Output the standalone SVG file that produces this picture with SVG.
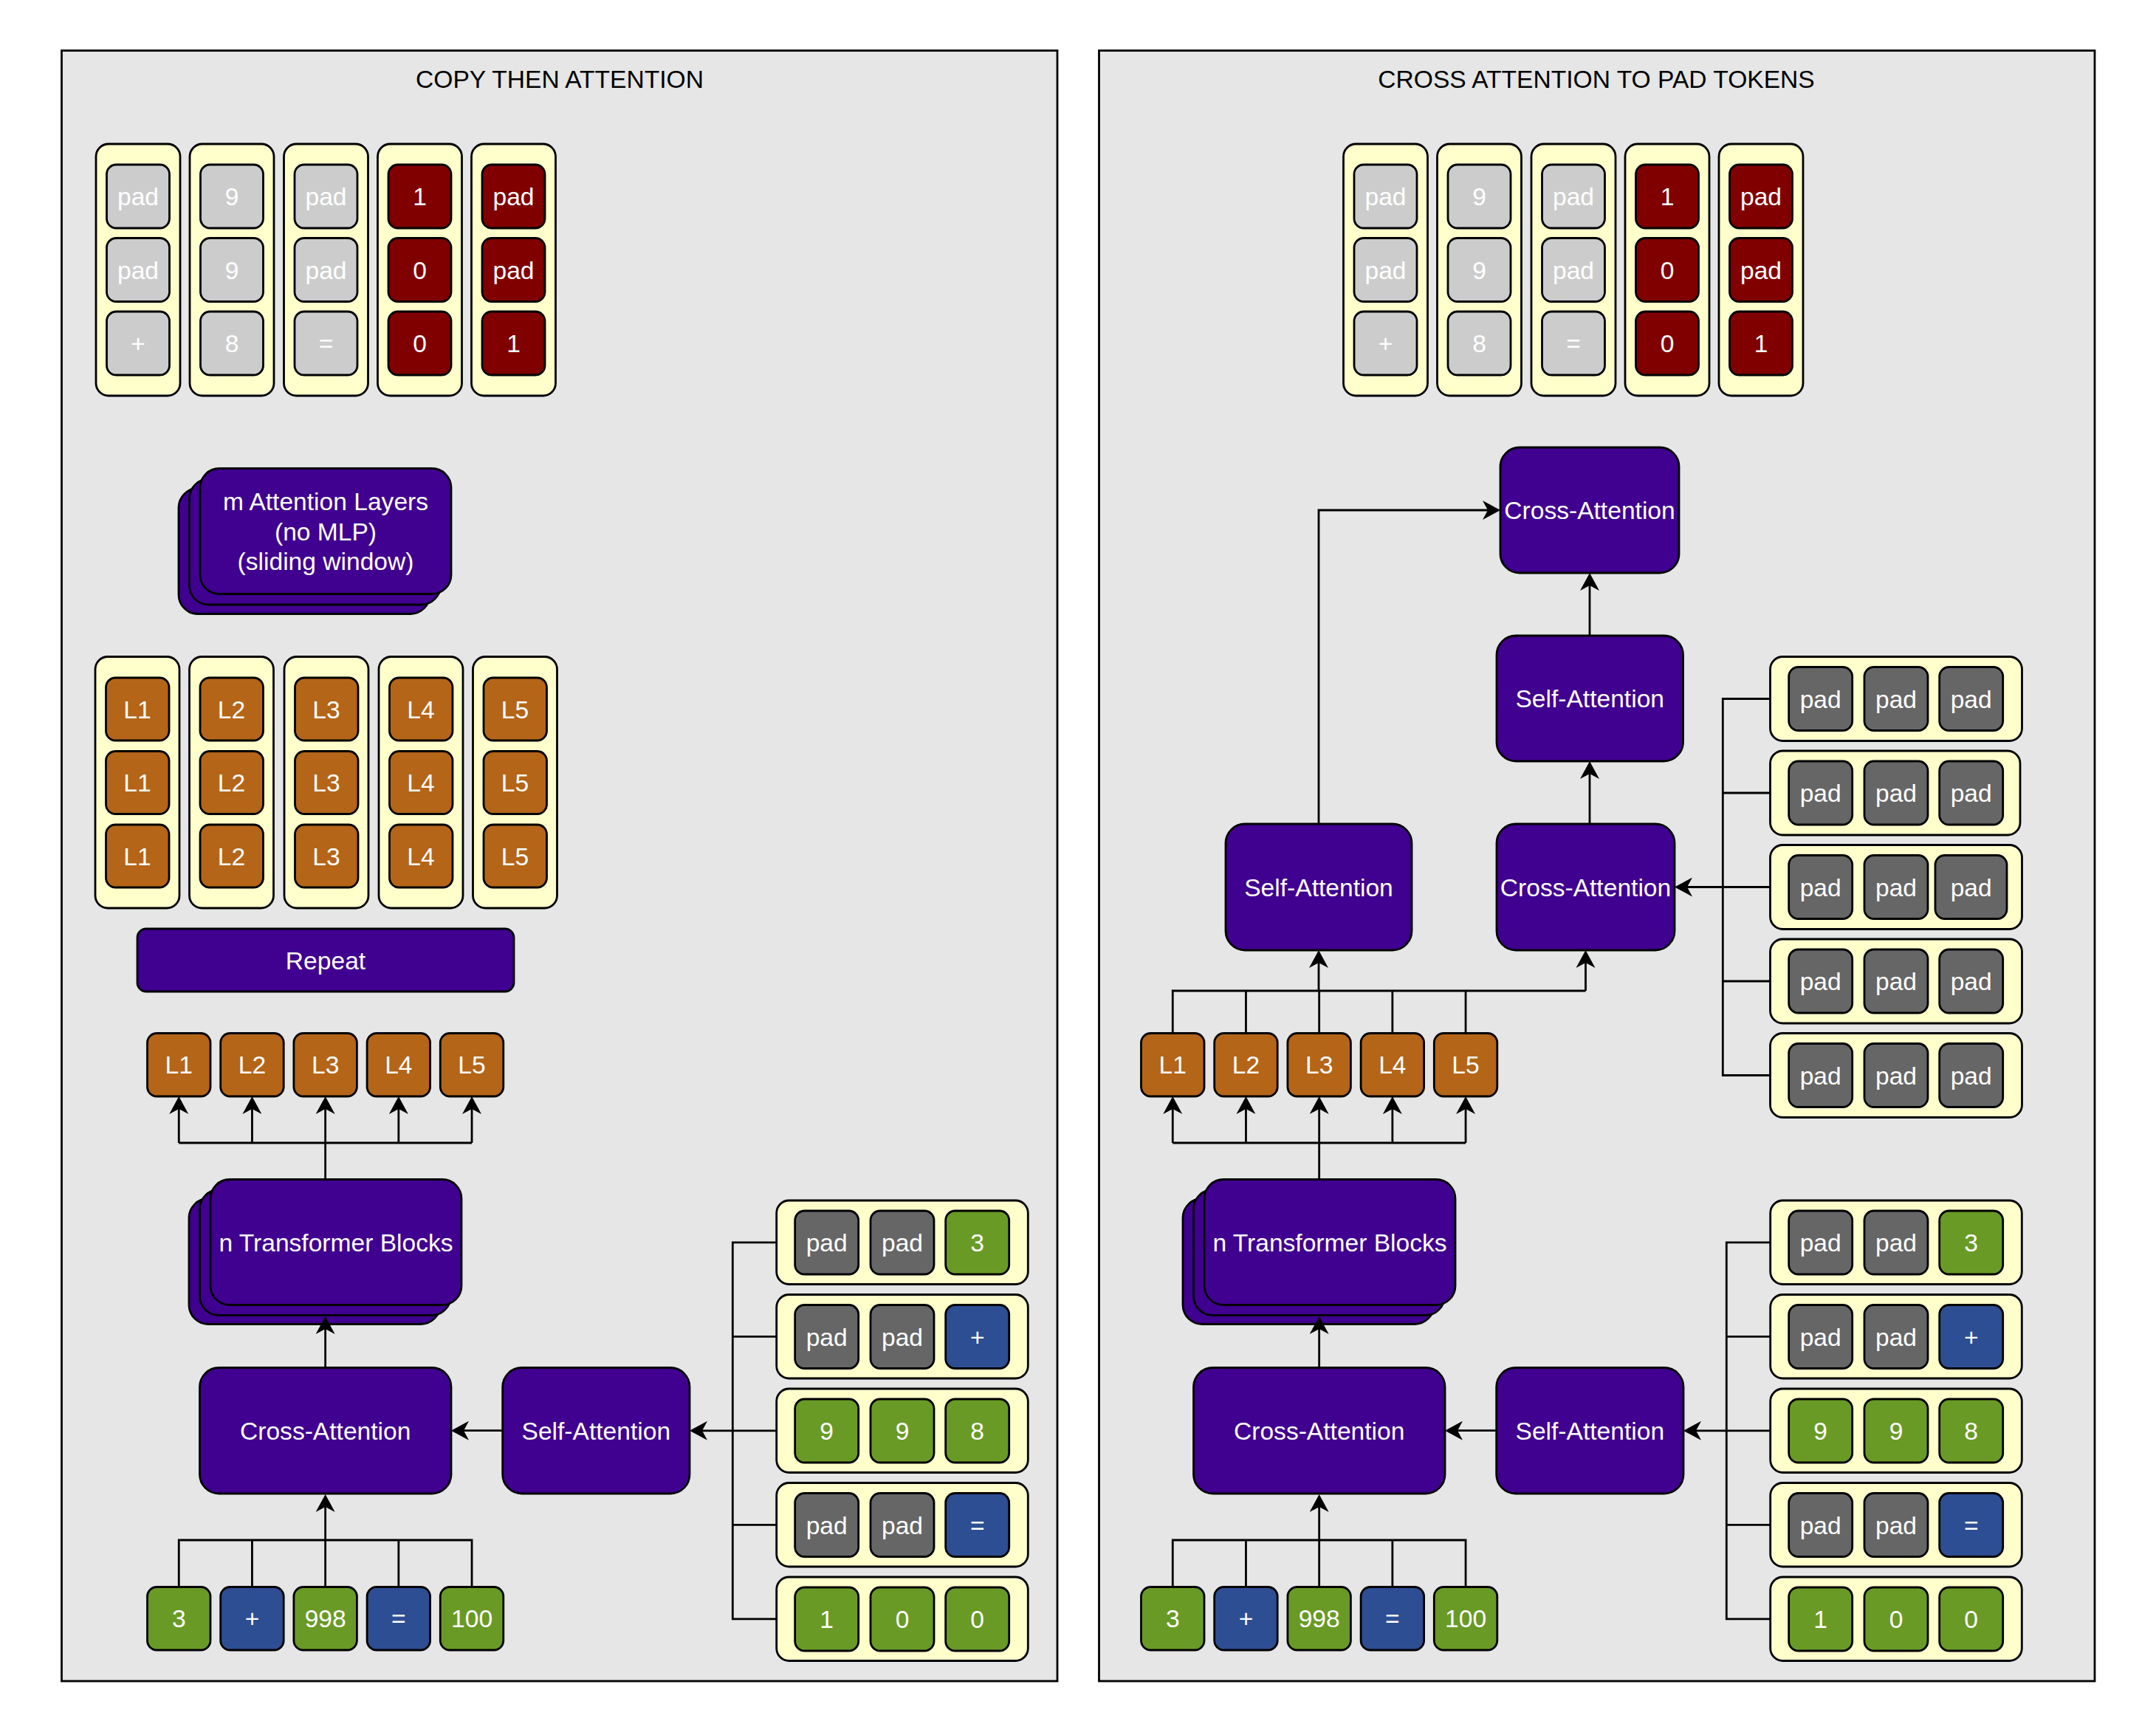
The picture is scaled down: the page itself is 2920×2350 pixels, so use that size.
<svg xmlns="http://www.w3.org/2000/svg" width="2920" height="2350" viewBox="0 0 2920 2350">
<defs>
<style>
.panel{fill:#e6e6e6;stroke:#000;stroke-width:2.8}
.col{fill:#ffffcc;stroke:#000;stroke-width:2.8}
.tk{stroke:#000;stroke-width:2.8}
.lg{fill:#cccccc}.dr{fill:#800000}.or{fill:#b46518}.gr{fill:#6a9a26}.bl{fill:#2d4e93}.dg{fill:#666666}
.pu{fill:#400090;stroke:#000;stroke-width:2.8}
text{font-family:"Liberation Sans",Arial,Helvetica,sans-serif;font-size:33.6px;fill:#fff;text-anchor:middle}
text.title{fill:#000}
.e{fill:none;stroke:#000;stroke-width:2.8}
.a{fill:none;stroke:#000;stroke-width:2.8;marker-end:url(#arr)}
</style>
<marker id="arr" markerUnits="userSpaceOnUse" markerWidth="26" markerHeight="26" viewBox="0 0 24 26" refX="21" refY="13" orient="auto"><path d="M0,0 L24,13 L0,26 L7,13 Z" fill="#000"/></marker>
</defs>
<rect width="2920" height="2350" fill="#fff"/>

<!-- LEFT PANEL -->
<g id="panel-left"><rect class="panel" x="83.5" y="68.5" width="1348.5" height="2208.5"/><text class="title" x="758" y="119">COPY THEN ATTENTION</text></g>

<g id="left-out-col1"><rect class="col" x="130" y="195" width="114" height="341" rx="17"/>
<rect class="tk lg" x="144.5" y="223" width="85" height="86" rx="13"/><text x="187" y="278">pad</text>
<rect class="tk lg" x="144.5" y="322.5" width="85" height="86" rx="13"/><text x="187" y="377.5">pad</text>
<rect class="tk lg" x="144.5" y="422" width="85" height="86" rx="13"/><text x="187" y="477">+</text></g>
<g id="left-out-col2"><rect class="col" x="257" y="195" width="114" height="341" rx="17"/>
<rect class="tk lg" x="271.5" y="223" width="85" height="86" rx="13"/><text x="314" y="278">9</text>
<rect class="tk lg" x="271.5" y="322.5" width="85" height="86" rx="13"/><text x="314" y="377.5">9</text>
<rect class="tk lg" x="271.5" y="422" width="85" height="86" rx="13"/><text x="314" y="477">8</text></g>
<g id="left-out-col3"><rect class="col" x="384.5" y="195" width="114" height="341" rx="17"/>
<rect class="tk lg" x="399" y="223" width="85" height="86" rx="13"/><text x="441.5" y="278">pad</text>
<rect class="tk lg" x="399" y="322.5" width="85" height="86" rx="13"/><text x="441.5" y="377.5">pad</text>
<rect class="tk lg" x="399" y="422" width="85" height="86" rx="13"/><text x="441.5" y="477">=</text></g>
<g id="left-out-col4"><rect class="col" x="511.5" y="195" width="114" height="341" rx="17"/>
<rect class="tk dr" x="526" y="223" width="85" height="86" rx="13"/><text x="568.5" y="278">1</text>
<rect class="tk dr" x="526" y="322.5" width="85" height="86" rx="13"/><text x="568.5" y="377.5">0</text>
<rect class="tk dr" x="526" y="422" width="85" height="86" rx="13"/><text x="568.5" y="477">0</text></g>
<g id="left-out-col5"><rect class="col" x="638.5" y="195" width="114" height="341" rx="17"/>
<rect class="tk dr" x="653" y="223" width="85" height="86" rx="13"/><text x="695.5" y="278">pad</text>
<rect class="tk dr" x="653" y="322.5" width="85" height="86" rx="13"/><text x="695.5" y="377.5">pad</text>
<rect class="tk dr" x="653" y="422" width="85" height="86" rx="13"/><text x="695.5" y="477">1</text></g>

<g id="left-m-attention">
<rect class="pu" x="242" y="661.5" width="340" height="170" rx="26"/>
<rect class="pu" x="256.5" y="649" width="340" height="170" rx="26"/>
<rect class="pu" x="271" y="634.5" width="340" height="170" rx="26"/>
<text x="441" y="691">m Attention Layers</text><text x="441" y="731.5">(no MLP)</text><text x="441" y="772">(sliding window)</text></g>

<g id="left-l-col1"><rect class="col" x="129" y="889.5" width="114" height="340.5" rx="17"/>
<rect class="tk or" x="143.5" y="918" width="85.5" height="85" rx="13"/><text x="186" y="972.5">L1</text>
<rect class="tk or" x="143.5" y="1017.5" width="85.5" height="85" rx="13"/><text x="186" y="1072">L1</text>
<rect class="tk or" x="143.5" y="1117" width="85.5" height="85" rx="13"/><text x="186" y="1171.5">L1</text></g>
<g id="left-l-col2"><rect class="col" x="256.5" y="889.5" width="114" height="340.5" rx="17"/>
<rect class="tk or" x="271" y="918" width="85.5" height="85" rx="13"/><text x="313.5" y="972.5">L2</text>
<rect class="tk or" x="271" y="1017.5" width="85.5" height="85" rx="13"/><text x="313.5" y="1072">L2</text>
<rect class="tk or" x="271" y="1117" width="85.5" height="85" rx="13"/><text x="313.5" y="1171.5">L2</text></g>
<g id="left-l-col3"><rect class="col" x="385" y="889.5" width="114" height="340.5" rx="17"/>
<rect class="tk or" x="399.5" y="918" width="85.5" height="85" rx="13"/><text x="442" y="972.5">L3</text>
<rect class="tk or" x="399.5" y="1017.5" width="85.5" height="85" rx="13"/><text x="442" y="1072">L3</text>
<rect class="tk or" x="399.5" y="1117" width="85.5" height="85" rx="13"/><text x="442" y="1171.5">L3</text></g>
<g id="left-l-col4"><rect class="col" x="513" y="889.5" width="114" height="340.5" rx="17"/>
<rect class="tk or" x="527.5" y="918" width="85.5" height="85" rx="13"/><text x="570" y="972.5">L4</text>
<rect class="tk or" x="527.5" y="1017.5" width="85.5" height="85" rx="13"/><text x="570" y="1072">L4</text>
<rect class="tk or" x="527.5" y="1117" width="85.5" height="85" rx="13"/><text x="570" y="1171.5">L4</text></g>
<g id="left-l-col5"><rect class="col" x="640.5" y="889.5" width="114" height="340.5" rx="17"/>
<rect class="tk or" x="655" y="918" width="85.5" height="85" rx="13"/><text x="697.5" y="972.5">L5</text>
<rect class="tk or" x="655" y="1017.5" width="85.5" height="85" rx="13"/><text x="697.5" y="1072">L5</text>
<rect class="tk or" x="655" y="1117" width="85.5" height="85" rx="13"/><text x="697.5" y="1171.5">L5</text></g>

<g id="left-repeat"><rect class="pu" x="186" y="1258" width="510" height="85" rx="12"/><text x="441" y="1312.5">Repeat</text></g>

<g id="left-L-row">
<rect class="tk or" x="199.5" y="1399.5" width="85.5" height="85.5" rx="13"/><text x="242.25" y="1454">L1</text>
<rect class="tk or" x="298.7" y="1399.5" width="85.5" height="85.5" rx="13"/><text x="341.45" y="1454">L2</text>
<rect class="tk or" x="397.9" y="1399.5" width="85.5" height="85.5" rx="13"/><text x="440.65" y="1454">L3</text>
<rect class="tk or" x="497.1" y="1399.5" width="85.5" height="85.5" rx="13"/><text x="539.85" y="1454">L4</text>
<rect class="tk or" x="596.3" y="1399.5" width="85.5" height="85.5" rx="13"/><text x="639.05" y="1454">L5</text></g>

<g id="left-transformer">
<rect class="pu" x="256" y="1623.5" width="340" height="170" rx="26"/>
<rect class="pu" x="270.5" y="1611.5" width="340" height="170" rx="26"/>
<rect class="pu" x="285" y="1597.5" width="340" height="170" rx="26"/>
<text x="455" y="1694.5">n Transformer Blocks</text></g>

<g id="left-cross"><rect class="pu" x="270.5" y="1852.5" width="340.5" height="170.5" rx="26"/><text x="440.7" y="1949.7">Cross-Attention</text></g>
<g id="left-self"><rect class="pu" x="680.7" y="1852.5" width="253.3" height="170.5" rx="26"/><text x="807.3" y="1949.7">Self-Attention</text></g>

<g id="left-in-row">
<rect class="tk gr" x="199.5" y="2149.5" width="85.5" height="85.5" rx="13"/><text x="242.25" y="2204">3</text>
<rect class="tk bl" x="298.7" y="2149.5" width="85.5" height="85.5" rx="13"/><text x="341.45" y="2204">+</text>
<rect class="tk gr" x="397.9" y="2149.5" width="85.5" height="85.5" rx="13"/><text x="440.65" y="2204">998</text>
<rect class="tk bl" x="497.1" y="2149.5" width="85.5" height="85.5" rx="13"/><text x="539.85" y="2204">=</text>
<rect class="tk gr" x="596.3" y="2149.5" width="85.5" height="85.5" rx="13"/><text x="639.05" y="2204">100</text></g>

<g id="left-pad-row1"><rect class="col" x="1051.7" y="1626" width="340.6" height="113.5" rx="17"/>
<rect class="tk dg" x="1076.7" y="1640" width="86" height="86" rx="13"/><text x="1119.7" y="1695">pad</text>
<rect class="tk dg" x="1179" y="1640" width="86" height="86" rx="13"/><text x="1222" y="1695">pad</text>
<rect class="tk gr" x="1280.7" y="1640" width="86" height="86" rx="13"/><text x="1323.7" y="1695">3</text></g>
<g id="left-pad-row2"><rect class="col" x="1051.7" y="1753.5" width="340.6" height="113.5" rx="17"/>
<rect class="tk dg" x="1076.7" y="1767.5" width="86" height="86" rx="13"/><text x="1119.7" y="1822.5">pad</text>
<rect class="tk dg" x="1179" y="1767.5" width="86" height="86" rx="13"/><text x="1222" y="1822.5">pad</text>
<rect class="tk bl" x="1280.7" y="1767.5" width="86" height="86" rx="13"/><text x="1323.7" y="1822.5">+</text></g>
<g id="left-pad-row3"><rect class="col" x="1051.7" y="1881" width="340.6" height="113.5" rx="17"/>
<rect class="tk gr" x="1076.7" y="1895" width="86" height="86" rx="13"/><text x="1119.7" y="1950">9</text>
<rect class="tk gr" x="1179" y="1895" width="86" height="86" rx="13"/><text x="1222" y="1950">9</text>
<rect class="tk gr" x="1280.7" y="1895" width="86" height="86" rx="13"/><text x="1323.7" y="1950">8</text></g>
<g id="left-pad-row4"><rect class="col" x="1051.7" y="2008.5" width="340.6" height="113.5" rx="17"/>
<rect class="tk dg" x="1076.7" y="2022.5" width="86" height="86" rx="13"/><text x="1119.7" y="2077.5">pad</text>
<rect class="tk dg" x="1179" y="2022.5" width="86" height="86" rx="13"/><text x="1222" y="2077.5">pad</text>
<rect class="tk bl" x="1280.7" y="2022.5" width="86" height="86" rx="13"/><text x="1323.7" y="2077.5">=</text></g>
<g id="left-pad-row5"><rect class="col" x="1051.7" y="2136" width="340.6" height="113.5" rx="17"/>
<rect class="tk gr" x="1076.7" y="2150" width="86" height="86" rx="13"/><text x="1119.7" y="2205">1</text>
<rect class="tk gr" x="1179" y="2150" width="86" height="86" rx="13"/><text x="1222" y="2205">0</text>
<rect class="tk gr" x="1280.7" y="2150" width="86" height="86" rx="13"/><text x="1323.7" y="2205">0</text></g>

<!-- RIGHT PANEL -->
<g id="panel-right"><rect class="panel" x="1488.5" y="68.5" width="1348.5" height="2208.5"/><text class="title" x="2162" y="119">CROSS ATTENTION TO PAD TOKENS</text></g>

<g id="right-out-col1"><rect class="col" x="1819.5" y="195" width="114" height="341" rx="17"/>
<rect class="tk lg" x="1834" y="223" width="85" height="86" rx="13"/><text x="1876.5" y="278">pad</text>
<rect class="tk lg" x="1834" y="322.5" width="85" height="86" rx="13"/><text x="1876.5" y="377.5">pad</text>
<rect class="tk lg" x="1834" y="422" width="85" height="86" rx="13"/><text x="1876.5" y="477">+</text></g>
<g id="right-out-col2"><rect class="col" x="1946.5" y="195" width="114" height="341" rx="17"/>
<rect class="tk lg" x="1961" y="223" width="85" height="86" rx="13"/><text x="2003.5" y="278">9</text>
<rect class="tk lg" x="1961" y="322.5" width="85" height="86" rx="13"/><text x="2003.5" y="377.5">9</text>
<rect class="tk lg" x="1961" y="422" width="85" height="86" rx="13"/><text x="2003.5" y="477">8</text></g>
<g id="right-out-col3"><rect class="col" x="2074" y="195" width="114" height="341" rx="17"/>
<rect class="tk lg" x="2088.5" y="223" width="85" height="86" rx="13"/><text x="2131" y="278">pad</text>
<rect class="tk lg" x="2088.5" y="322.5" width="85" height="86" rx="13"/><text x="2131" y="377.5">pad</text>
<rect class="tk lg" x="2088.5" y="422" width="85" height="86" rx="13"/><text x="2131" y="477">=</text></g>
<g id="right-out-col4"><rect class="col" x="2201" y="195" width="114" height="341" rx="17"/>
<rect class="tk dr" x="2215.5" y="223" width="85" height="86" rx="13"/><text x="2258" y="278">1</text>
<rect class="tk dr" x="2215.5" y="322.5" width="85" height="86" rx="13"/><text x="2258" y="377.5">0</text>
<rect class="tk dr" x="2215.5" y="422" width="85" height="86" rx="13"/><text x="2258" y="477">0</text></g>
<g id="right-out-col5"><rect class="col" x="2328" y="195" width="114" height="341" rx="17"/>
<rect class="tk dr" x="2342.5" y="223" width="85" height="86" rx="13"/><text x="2385" y="278">pad</text>
<rect class="tk dr" x="2342.5" y="322.5" width="85" height="86" rx="13"/><text x="2385" y="377.5">pad</text>
<rect class="tk dr" x="2342.5" y="422" width="85" height="86" rx="13"/><text x="2385" y="477">1</text></g>

<g id="right-cross-top"><rect class="pu" x="2032" y="606" width="242" height="170" rx="26"/><text x="2153" y="703">Cross-Attention</text></g>
<g id="right-self-top"><rect class="pu" x="2027" y="861" width="252.5" height="170" rx="26"/><text x="2153.2" y="958">Self-Attention</text></g>
<g id="right-cross-mid"><rect class="pu" x="2027" y="1116" width="241" height="171" rx="26"/><text x="2147.5" y="1213.5">Cross-Attention</text></g>
<g id="right-self-left"><rect class="pu" x="1660" y="1116" width="252" height="171" rx="26"/><text x="1786" y="1213.5">Self-Attention</text></g>

<g id="right-padonly-row1"><rect class="col" x="2397.5" y="889.5" width="341" height="114" rx="17"/>
<rect class="tk dg" x="2422.7" y="903.5" width="86" height="86" rx="13"/><text x="2465.7" y="958.5">pad</text>
<rect class="tk dg" x="2525" y="903.5" width="86" height="86" rx="13"/><text x="2568" y="958.5">pad</text>
<rect class="tk dg" x="2626.7" y="903.5" width="86" height="86" rx="13"/><text x="2669.7" y="958.5">pad</text></g>
<g id="right-padonly-row2"><rect class="col" x="2397.5" y="1017" width="338.5" height="114" rx="17"/>
<rect class="tk dg" x="2422.7" y="1031" width="86" height="86" rx="13"/><text x="2465.7" y="1086">pad</text>
<rect class="tk dg" x="2525" y="1031" width="86" height="86" rx="13"/><text x="2568" y="1086">pad</text>
<rect class="tk dg" x="2626.7" y="1031" width="86" height="86" rx="13"/><text x="2669.7" y="1086">pad</text></g>
<g id="right-padonly-row3"><rect class="col" x="2397.5" y="1144.5" width="341" height="114" rx="17"/>
<rect class="tk dg" x="2422.7" y="1158.5" width="86" height="86" rx="13"/><text x="2465.7" y="1213.5">pad</text>
<rect class="tk dg" x="2525" y="1158.5" width="86" height="86" rx="13"/><text x="2568" y="1213.5">pad</text>
<rect class="tk dg" x="2621" y="1158.5" width="97" height="86" rx="13"/><text x="2669.7" y="1213.5">pad</text></g>
<g id="right-padonly-row4"><rect class="col" x="2397.5" y="1272" width="341" height="114" rx="17"/>
<rect class="tk dg" x="2422.7" y="1286" width="86" height="86" rx="13"/><text x="2465.7" y="1341">pad</text>
<rect class="tk dg" x="2525" y="1286" width="86" height="86" rx="13"/><text x="2568" y="1341">pad</text>
<rect class="tk dg" x="2626.7" y="1286" width="86" height="86" rx="13"/><text x="2669.7" y="1341">pad</text></g>
<g id="right-padonly-row5"><rect class="col" x="2397.5" y="1399.5" width="341" height="114" rx="17"/>
<rect class="tk dg" x="2422.7" y="1413.5" width="86" height="86" rx="13"/><text x="2465.7" y="1468.5">pad</text>
<rect class="tk dg" x="2525" y="1413.5" width="86" height="86" rx="13"/><text x="2568" y="1468.5">pad</text>
<rect class="tk dg" x="2626.7" y="1413.5" width="86" height="86" rx="13"/><text x="2669.7" y="1468.5">pad</text></g>

<g id="right-L-row">
<rect class="tk or" x="1545.5" y="1399.5" width="85.5" height="85.5" rx="13"/><text x="1588.25" y="1454">L1</text>
<rect class="tk or" x="1644.7" y="1399.5" width="85.5" height="85.5" rx="13"/><text x="1687.45" y="1454">L2</text>
<rect class="tk or" x="1743.9" y="1399.5" width="85.5" height="85.5" rx="13"/><text x="1786.65" y="1454">L3</text>
<rect class="tk or" x="1843.1" y="1399.5" width="85.5" height="85.5" rx="13"/><text x="1885.85" y="1454">L4</text>
<rect class="tk or" x="1942.3" y="1399.5" width="85.5" height="85.5" rx="13"/><text x="1985.05" y="1454">L5</text></g>

<g id="right-transformer">
<rect class="pu" x="1602" y="1623.5" width="340" height="170" rx="26"/>
<rect class="pu" x="1616.5" y="1611.5" width="340" height="170" rx="26"/>
<rect class="pu" x="1631" y="1597.5" width="340" height="170" rx="26"/>
<text x="1801" y="1694.5">n Transformer Blocks</text></g>

<g id="right-cross"><rect class="pu" x="1616.5" y="1852.5" width="340.5" height="170.5" rx="26"/><text x="1786.7" y="1949.7">Cross-Attention</text></g>
<g id="right-self"><rect class="pu" x="2026.7" y="1852.5" width="253.3" height="170.5" rx="26"/><text x="2153.3" y="1949.7">Self-Attention</text></g>

<g id="right-in-row">
<rect class="tk gr" x="1545.5" y="2149.5" width="85.5" height="85.5" rx="13"/><text x="1588.25" y="2204">3</text>
<rect class="tk bl" x="1644.7" y="2149.5" width="85.5" height="85.5" rx="13"/><text x="1687.45" y="2204">+</text>
<rect class="tk gr" x="1743.9" y="2149.5" width="85.5" height="85.5" rx="13"/><text x="1786.65" y="2204">998</text>
<rect class="tk bl" x="1843.1" y="2149.5" width="85.5" height="85.5" rx="13"/><text x="1885.85" y="2204">=</text>
<rect class="tk gr" x="1942.3" y="2149.5" width="85.5" height="85.5" rx="13"/><text x="1985.05" y="2204">100</text></g>

<g id="right-pad-row1"><rect class="col" x="2397.7" y="1626" width="340.6" height="113.5" rx="17"/>
<rect class="tk dg" x="2422.7" y="1640" width="86" height="86" rx="13"/><text x="2465.7" y="1695">pad</text>
<rect class="tk dg" x="2525" y="1640" width="86" height="86" rx="13"/><text x="2568" y="1695">pad</text>
<rect class="tk gr" x="2626.7" y="1640" width="86" height="86" rx="13"/><text x="2669.7" y="1695">3</text></g>
<g id="right-pad-row2"><rect class="col" x="2397.7" y="1753.5" width="340.6" height="113.5" rx="17"/>
<rect class="tk dg" x="2422.7" y="1767.5" width="86" height="86" rx="13"/><text x="2465.7" y="1822.5">pad</text>
<rect class="tk dg" x="2525" y="1767.5" width="86" height="86" rx="13"/><text x="2568" y="1822.5">pad</text>
<rect class="tk bl" x="2626.7" y="1767.5" width="86" height="86" rx="13"/><text x="2669.7" y="1822.5">+</text></g>
<g id="right-pad-row3"><rect class="col" x="2397.7" y="1881" width="340.6" height="113.5" rx="17"/>
<rect class="tk gr" x="2422.7" y="1895" width="86" height="86" rx="13"/><text x="2465.7" y="1950">9</text>
<rect class="tk gr" x="2525" y="1895" width="86" height="86" rx="13"/><text x="2568" y="1950">9</text>
<rect class="tk gr" x="2626.7" y="1895" width="86" height="86" rx="13"/><text x="2669.7" y="1950">8</text></g>
<g id="right-pad-row4"><rect class="col" x="2397.7" y="2008.5" width="340.6" height="113.5" rx="17"/>
<rect class="tk dg" x="2422.7" y="2022.5" width="86" height="86" rx="13"/><text x="2465.7" y="2077.5">pad</text>
<rect class="tk dg" x="2525" y="2022.5" width="86" height="86" rx="13"/><text x="2568" y="2077.5">pad</text>
<rect class="tk bl" x="2626.7" y="2022.5" width="86" height="86" rx="13"/><text x="2669.7" y="2077.5">=</text></g>
<g id="right-pad-row5"><rect class="col" x="2397.7" y="2136" width="340.6" height="113.5" rx="17"/>
<rect class="tk gr" x="2422.7" y="2150" width="86" height="86" rx="13"/><text x="2465.7" y="2205">1</text>
<rect class="tk gr" x="2525" y="2150" width="86" height="86" rx="13"/><text x="2568" y="2205">0</text>
<rect class="tk gr" x="2626.7" y="2150" width="86" height="86" rx="13"/><text x="2669.7" y="2205">0</text></g>

<g id="connectors">
<!-- left: transformer to L row -->
<path class="e" d="M242.25,1548 H639.05 M440.65,1597.5 V1548"/>
<path class="a" d="M242.25,1548 V1488"/><path class="a" d="M341.45,1548 V1488"/><path class="a" d="M440.65,1548 V1488"/><path class="a" d="M539.85,1548 V1488"/><path class="a" d="M639.05,1548 V1488"/>
<path class="a" d="M440.65,1852.5 V1786"/>
<!-- left: inputs to cross -->
<path class="e" d="M242.25,2149.5 V2086 H639.05 V2149.5 M341.45,2149.5 V2086 M539.85,2149.5 V2086 M440.65,2149.5 V2086"/>
<path class="a" d="M440.65,2086 V2027"/>
<path class="a" d="M680.7,1937.7 H614"/>
<!-- left: pad rows to self -->
<path class="e" d="M1051.7,1682.8 H992.3 V2192.8 H1051.7 M1051.7,1810.3 H992.3 M1051.7,2065.3 H992.3"/>
<path class="a" d="M1051.7,1937.8 H937"/>

<!-- right: transformer to L row -->
<path class="e" d="M1588.25,1548 H1985.05 M1786.65,1597.5 V1548"/>
<path class="a" d="M1588.25,1548 V1488"/><path class="a" d="M1687.45,1548 V1488"/><path class="a" d="M1786.65,1548 V1488"/><path class="a" d="M1885.85,1548 V1488"/><path class="a" d="M1985.05,1548 V1488"/>
<path class="a" d="M1786.65,1852.5 V1786"/>
<path class="e" d="M1588.25,2149.5 V2086 H1985.05 V2149.5 M1687.45,2149.5 V2086 M1885.85,2149.5 V2086 M1786.65,2149.5 V2086"/>
<path class="a" d="M1786.65,2086 V2027"/>
<path class="a" d="M2026.7,1937.7 H1960"/>
<path class="e" d="M2397.7,1682.8 H2338.3 V2192.8 H2397.7 M2397.7,1810.3 H2338.3 M2397.7,2065.3 H2338.3"/>
<path class="a" d="M2397.7,1937.8 H2283"/>

<!-- right: L row to upper attention -->
<path class="e" d="M1588.25,1399.5 V1342 H2147.5 M1687.45,1399.5 V1342 M1885.85,1399.5 V1342 M1985.05,1399.5 V1342 M1786.65,1399.5 V1342"/>
<path class="a" d="M2147.5,1342 V1290"/>
<path class="a" d="M1786,1342 V1290"/>
<path class="a" d="M1786,1116 V691 H2029"/>
<path class="a" d="M2153,1116 V1034"/>
<path class="a" d="M2153,861 V779"/>
<path class="e" d="M2397.5,946.5 H2333.3 V1456.5 H2397.5 M2397.5,1074 H2333.3 M2397.5,1329 H2333.3"/>
<path class="a" d="M2397.5,1201.5 H2271"/>
</g>
</svg>
